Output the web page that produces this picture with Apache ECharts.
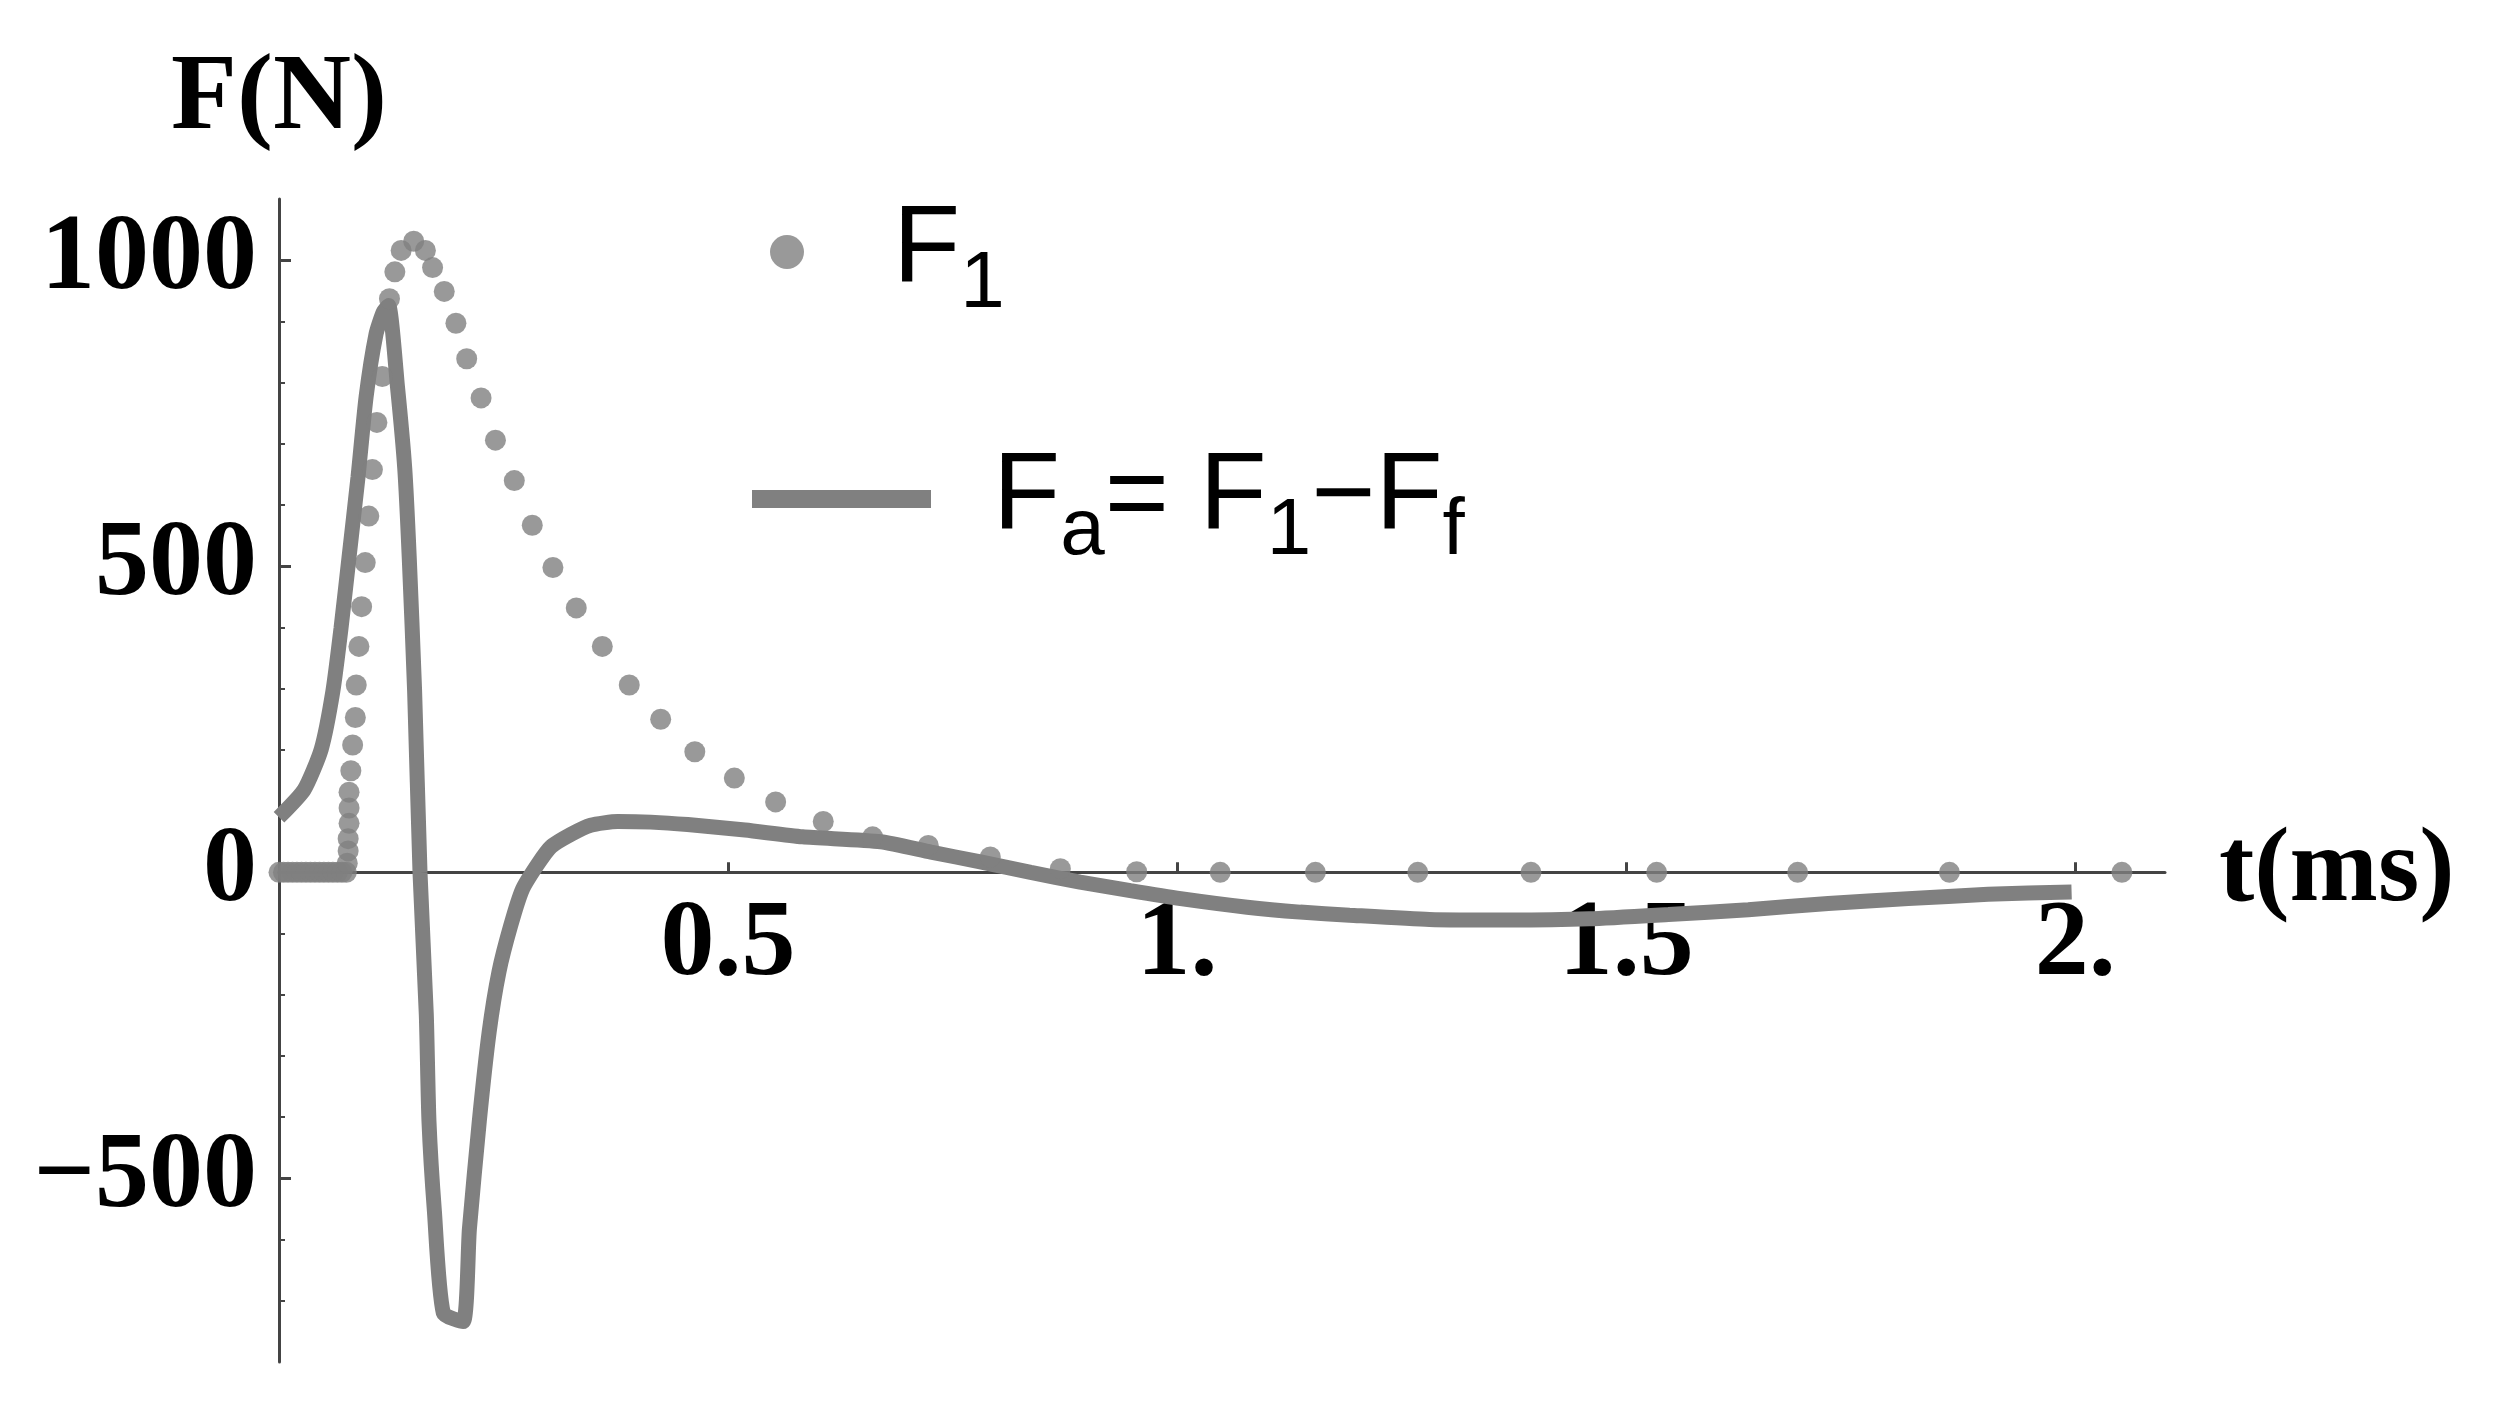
<!DOCTYPE html>
<html>
<head>
<meta charset="utf-8">
<script src="https://cdn.jsdelivr.net/npm/echarts@6/dist/echarts.min.js"></script>
<style>
html, body { margin: 0; padding: 0; background: #fff; }
#chart { width: 2500px; height: 1412px; }
</style>
</head>
<body>
<div id="chart"></div>
<script>
// F1 samples: time (ms), force (N)
var f1Time = [0, 0.005, 0.010, 0.015, 0.020, 0.025, 0.030, 0.035, 0.040, 0.045, 0.050, 0.055, 0.060, 0.065, 0.070, 0.075,
    0.076, 0.077, 0.077, 0.078, 0.078, 0.078, 0.080, 0.082, 0.085, 0.086, 0.089, 0.092, 0.096, 0.100, 0.104, 0.109, 0.115,
    0.123, 0.129, 0.136, 0.150, 0.163, 0.171, 0.184, 0.197, 0.209, 0.225, 0.241, 0.262, 0.282, 0.305, 0.331, 0.360,
    0.390, 0.425, 0.463, 0.507, 0.553, 0.606, 0.661, 0.723, 0.792, 0.870, 0.955, 1.048, 1.154, 1.268, 1.394, 1.534,
    1.691, 1.860, 2.052];
var f1Force = [0, 0, 0, 0, 0, 0, 0, 0, 0, 0, 0, 0, 0, 0, 0, 0,
    15, 35, 55, 80, 105, 131, 166, 208, 253, 306, 369, 434, 506, 582, 658, 735, 810,
    937, 981, 1016, 1031, 1016, 988, 949, 897, 839, 775, 706, 640, 567, 498, 432, 369,
    306, 250, 197, 154, 115, 83, 58, 44, 25, 6, 1, 0, 0, 0, 0, 0,
    0, 0, 0];

// Fa = F1 - Ff samples
var faTime = [0, 0.028, 0.047, 0.060, 0.069, 0.078, 0.088, 0.097, 0.108, 0.116, 0.122, 0.132, 0.140, 0.145, 0.151, 0.157,
    0.164, 0.167, 0.173, 0.183, 0.205, 0.212, 0.223, 0.234, 0.245, 0.258, 0.271, 0.288, 0.303, 0.325, 0.347, 0.377,
    0.414, 0.455, 0.519, 0.583, 0.670, 0.726, 0.781, 0.837, 0.892, 0.948, 1.004, 1.078, 1.137, 1.192, 1.281, 1.370,
    1.459, 1.547, 1.636, 1.725, 1.814, 1.903, 1.996];
var faForce = [90, 135, 201, 296, 398, 515, 646, 777, 879, 915, 926, 792, 660, 515, 296, 0,
    -232, -407, -553, -720, -734, -583, -407, -261, -162, -87, -28, 13, 42, 62, 77, 83,
    82, 78, 69, 58, 50, 33, 17, 0, -16, -30, -43, -57, -65, -70, -77, -78,
    -76, -69, -61, -51, -43, -36, -32];

var xTicks = [0.5, 1, 1.5, 2];
var xTickLabels = ['0.5', '1.', '1.5', '2.'];
var yTicks = [-500, 0, 500, 1000];
var yTickLabels = ['\u2212500', '0', '500', '1000'];
var yMinorTicks = [-700, -600, -400, -300, -200, -100, 100, 200, 300, 400, 600, 700, 800, 900];

var grey = '#808080';
var axisColor = '#444';
var serif = 'Liberation Serif';
var sans = 'Liberation Sans';

// plot box in pixels; x axis sits at F = 0
var plotTop = 199, plotHeight = 1163, yMin = -800, yMax = 1100;
var zeroOffset = plotHeight * (0 - yMin) / (yMax - yMin);

function pairs(xs, ys) {
    var out = [];
    for (var i = 0; i < xs.length; i++) out.push([xs[i], ys[i]]);
    return out;
}

var tickFont = { fontFamily: serif, fontWeight: 'bold', fontSize: 108, color: '#000' };

var chart = echarts.init(document.getElementById('chart'));
chart.setOption({
    animation: false,
    backgroundColor: '#fff',
    grid: { left: 279, top: plotTop, width: 1886, height: plotHeight, containLabel: false, outerBoundsMode: 'none' },
    legend: [{
        data: ['F1'],
        left: 770, top: 197, padding: 0,
        icon: 'circle', itemWidth: 34, itemHeight: 34,
        selectedMode: false,
        formatter: function () { return '{p|F}{s|1}'; },
        textStyle: {
            rich: {
                p: { fontFamily: sans, fontSize: 110, color: '#000', padding: [0, 0, 0, 84] },
                s: { fontFamily: sans, fontSize: 80, color: '#000', padding: [65, 0, 0, 0] }
            }
        }
    }, {
        data: ['Fa'],
        left: 752, top: 444, padding: 0,
        icon: 'rect', itemWidth: 179, itemHeight: 18,
        selectedMode: false,
        formatter: function () { return '{p|F}{s|a}{m|= F}{s|1}{m|\u2212F}{s|f}'; },
        textStyle: {
            rich: {
                p: { fontFamily: sans, fontSize: 110, color: '#000', padding: [0, 0, 0, 57] },
                m: { fontFamily: sans, fontSize: 110, color: '#000' },
                s: { fontFamily: sans, fontSize: 80, color: '#000', padding: [65, 0, 0, 0] }
            }
        }
    }],
    xAxis: {
        type: 'value', min: 0, max: 2.1,
        position: 'bottom', offset: -zeroOffset,
        name: 't(ms)', nameLocation: 'end', nameGap: 54,
        nameTextStyle: { fontFamily: serif, fontWeight: 'bold', fontSize: 106, color: '#000' },
        axisLine: { onZero: false, lineStyle: { color: axisColor, width: 3 } },
        axisTick: { show: true, inside: true, length: 10, customValues: xTicks, lineStyle: { color: axisColor, width: 3 } },
        axisLabel: Object.assign({
            margin: 20,
            customValues: xTicks,
            formatter: function (v) { return xTickLabels[xTicks.indexOf(v)]; }
        }, tickFont),
        splitLine: { show: false }
    },
    yAxis: [{
        type: 'value', min: yMin, max: yMax,
        name: 'F(N)', nameLocation: 'end', nameGap: 45,
        nameTextStyle: { fontFamily: serif, fontWeight: 'bold', fontSize: 108, color: '#000', align: 'center' },
        axisLine: { show: true, onZero: false, lineStyle: { color: axisColor, width: 3 } },
        axisTick: { show: true, inside: true, length: 12, customValues: yTicks, lineStyle: { color: axisColor, width: 3 } },
        axisLabel: Object.assign({
            margin: 22,
            customValues: yTicks,
            formatter: function (v) { return yTickLabels[yTicks.indexOf(v)]; }
        }, tickFont),
        splitLine: { show: false }
    }, {
        type: 'value', min: yMin, max: yMax, position: 'left',
        axisLine: { show: false },
        axisTick: { show: true, inside: true, length: 6, customValues: yMinorTicks, lineStyle: { color: axisColor, width: 2 } },
        axisLabel: { show: false },
        splitLine: { show: false }
    }],
    series: [{
        name: 'Fa',
        type: 'line',
        data: pairs(faTime, faForce),
        showSymbol: false,
        smooth: 0.2,
        lineStyle: { color: grey, width: 15 },
        itemStyle: { color: grey },
        z: 2
    }, {
        name: 'F1',
        type: 'scatter',
        data: pairs(f1Time, f1Force),
        symbol: 'circle',
        symbolSize: 21,
        itemStyle: { color: grey },
        z: 3
    }]
});
</script>
</body>
</html>
